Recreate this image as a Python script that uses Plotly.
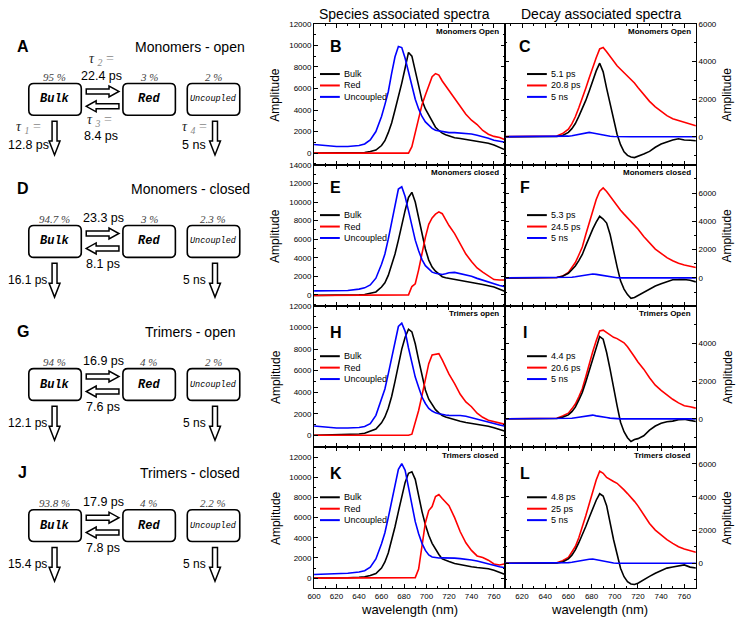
import plotly.graph_objects as go

# wavelength grid (nm) shared by all spectra
wavelength = [600, 610, 620, 630, 640, 645, 650, 655, 660, 663, 666, 669, 672, 675, 678, 681,
              684, 687, 690, 693, 696, 699, 702, 705, 708, 711, 714, 717, 720, 725, 730, 735,
              740, 745, 750, 755, 760, 765, 770]

# ---- Species associated spectra (B, E, H, K) ----
mono_open_bulk = [0, 0, 0, 0, 20, 50, 150, 280, 700, 1150, 1900, 2800, 4000, 5200, 6500, 7900,
                  9350, 9000, 7700, 6300, 4900, 4100, 3500, 2900, 2400, 2100, 1850, 1700, 1600, 1420,
                  1350, 1270, 1200, 1100, 1000, 920, 750, 550, 300]
mono_open_red = [0] * 17 + [600, 1900, 3300, 4500, 5400, 6300, 7100, 7380, 7250, 6700, 6250, 5850,
                            5050, 4300, 3600, 3050, 2650, 2100, 1750, 1550, 1450, 1230]
mono_open_unc = [800, 720, 620, 620, 700, 850, 1230, 2000, 3400, 4500, 5700, 7400, 8950, 9900, 9800,
                 8800, 7600, 6250, 5000, 4100, 3400, 2900, 2550, 2300, 2120, 2050, 2000, 1950, 1900,
                 1900, 1880, 1830, 1770, 1650, 1530, 1380, 1200, 1100, 1000]

mono_closed_bulk = [-50, -50, -40, -20, 0, 50, 150, 320, 850, 1300, 2100, 3200, 4400, 5900, 7600,
                    9100, 10500, 11050, 10000, 8300, 6500, 4950, 3750, 3000, 2550, 2250, 1960, 1850,
                    1780, 1620, 1520, 1400, 1320, 1220, 1120, 1010, 850, 600, 360]
mono_closed_red = [-60] * 16 + [0, 900, 1200, 2700, 4500, 6200, 7600, 8300, 8700, 8950, 8750, 8100,
                                7470, 6600, 5450, 4400, 3600, 2900, 2450, 2000, 1650, 1600, 1600]
mono_closed_unc = [430, 430, 430, 480, 620, 760, 1070, 1800, 3300, 4400, 6000, 7900, 9700, 11400,
                   11650, 10600, 9050, 7300, 5900, 4750, 3800, 3150, 2750, 2450, 2330, 2250, 2200,
                   2280, 2380, 2420, 2300, 2150, 2000, 1780, 1580, 1380, 1180, 1020, 890]

tri_open_bulk = [0, 20, 40, 70, 120, 180, 350, 580, 1150, 1700, 2500, 3600, 5000, 6500, 8000, 9100,
                 9850, 9600, 8500, 7000, 5500, 4200, 3350, 2800, 2380, 2080, 1840, 1700, 1600, 1420,
                 1300, 1180, 1100, 1000, 920, 840, 700, 540, 370]
tri_open_red = [0] * 17 + [100, 1100, 2300, 3700, 5200, 6650, 7450, 7550, 7580, 7000, 6300, 5670,
                           4800, 3800, 3100, 2650, 2050, 1670, 1400, 1260, 1150, 1010]
tri_open_unc = [860, 760, 680, 680, 720, 820, 1070, 1850, 3300, 4300, 5700, 7200, 8850, 10100, 10400,
                9650, 8100, 6700, 5400, 4450, 3550, 2950, 2500, 2250, 2080, 2000, 1920, 1880, 1850,
                1850, 1840, 1760, 1640, 1500, 1370, 1240, 1100, 960, 830]

tri_closed_bulk = [0, 0, 20, 40, 80, 130, 260, 460, 1000, 1600, 2500, 3700, 5100, 6600, 8200, 9500,
                   10400, 10550, 9800, 8100, 6600, 5300, 4250, 3450, 2850, 2350, 1910, 1750, 1640,
                   1450, 1330, 1220, 1130, 1050, 990, 930, 780, 560, 360]
tri_closed_red = [0] * 18 + [50, 900, 3000, 5500, 6700, 7100, 8100, 8300, 7900, 7500, 7190, 6000,
                             4600, 3500, 2750, 2200, 2050, 1780, 1400, 1300, 1420]
tri_closed_unc = [360, 380, 420, 480, 600, 740, 1090, 1900, 3400, 4500, 6000, 7700, 9450, 10800,
                  11350, 10700, 9000, 7400, 5600, 4400, 3450, 2750, 2300, 2100, 2020, 2000, 2010,
                  2010, 2010, 1980, 1930, 1880, 1800, 1700, 1540, 1370, 1220, 1120, 1020]

# ---- Decay associated spectra (C, F, I, L) ----
das_mo_fast = [0] * 6 + [10, 70, 230, 430, 700, 1080, 1470, 1930, 2430, 2980, 3500, 3910, 3450,
                         2570, 1700, 870, 130, -420, -800, -990, -1080, -1110, -1050, -920, -780,
                         -560, -390, -260, -170, -110, -175, -185, -210]
das_mo_slow = [0] * 6 + [40, 170, 400, 680, 1060, 1540, 2020, 2580, 3130, 3690, 4200, 4670, 4740,
                         4520, 4260, 3980, 3770, 3590, 3410, 3220, 3040, 2860, 2620, 2230, 1880,
                         1590, 1360, 1120, 960, 870, 760, 660, 580]
das_mo_ns = [0] * 8 + [30, 50, 90, 140, 180, 205, 230, 200, 160, 120, 90, 45, 25, 10] + [0] * 17

das_mc_fast = [0] * 6 + [25, 120, 330, 580, 840, 1220, 1660, 2280, 2890, 3450, 3950, 4360, 4160,
                         3880, 3070, 1870, 800, -210, -790, -1180, -1440, -1380, -1250, -1000, -780,
                         -580, -420, -270, -130, -125, -110, -170, -280]
das_mc_slow = [0] * 6 + [25, 130, 380, 730, 1090, 1620, 2180, 3070, 3940, 4800, 5550, 6140, 6370,
                         6110, 5770, 5400, 5070, 4790, 4510, 4260, 4020, 3770, 3460, 2930, 2450,
                         2040, 1740, 1430, 1210, 1030, 910, 810, 730]
das_mc_ns = [0] * 8 + [20, 50, 80, 115, 150, 190, 235, 275, 250, 210, 160, 110, 60, 35, 15] + [0] * 16

das_to_fast = [0] * 6 + [20, 90, 210, 380, 620, 990, 1400, 1960, 2560, 3210, 3820, 4370, 4230,
                         3520, 2630, 1610, 700, -180, -680, -1000, -1200, -1100, -1050, -900, -600,
                         -380, -230, -150, -120, -40, -25, -80, -140]
das_to_slow = [0] * 6 + [30, 150, 300, 530, 790, 1170, 1600, 2230, 2930, 3560, 4150, 4670, 4710,
                         4590, 4440, 4330, 4260, 4170, 4040, 3830, 3590, 3300, 3020, 2640, 2180,
                         1790, 1510, 1260, 1040, 850, 700, 640, 570]
das_to_ns = [0] * 8 + [15, 35, 60, 95, 130, 160, 195, 200, 160, 120, 95, 70, 40, 20, 5] + [0] * 16

das_tc_fast = [0] * 6 + [15, 80, 260, 490, 810, 1240, 1690, 2220, 2760, 3280, 3800, 4190, 4050,
                         3470, 2340, 1420, 560, -300, -810, -1110, -1250, -1280, -1200, -970, -790,
                         -600, -430, -290, -220, -160, -100, -230, -280]
das_tc_slow = [0] * 6 + [30, 150, 360, 680, 1010, 1540, 2140, 2860, 3590, 4370, 5020, 5550, 5420,
                         5170, 5030, 4930, 4820, 4640, 4420, 4200, 3990, 3730, 3460, 2960, 2400,
                         2000, 1690, 1420, 1200, 1000, 860, 760, 660]
das_tc_ns = [0] * 8 + [40, 60, 100, 140, 170, 205, 240, 255, 210, 160, 120, 85, 45, 20, 5] + [0] * 16

sas_names = ["Bulk", "Red", "Uncoupled"]
das_names = [["5.1 ps", "20.8 ps", "5 ns"], ["5.3 ps", "24.5 ps", "5 ns"],
             ["4.4 ps", "20.6 ps", "5 ns"], ["4.8 ps", "25 ps", "5 ns"]]
sas_tags = ["Monomers Open", "Monomers closed", "Trimers open", "Trimers closed"]
das_tags = ["Monomers Open", "Monomers closed", "Trimers Open", "Trimers closed"]
sas_letters = ["B", "E", "H", "K"]
das_letters = ["C", "F", "I", "L"]

# ---- Kinetic schemes (A, D, G, J) ----
scheme_letters = ["A", "D", "G", "J"]
scheme_titles = ["Monomers - open", "Monomers - closed", "Trimers - open", "Trimers - closed"]
bulk_pct = ["95 %", "94.7 %", "94 %", "93.8 %"]
red_pct = ["3 %", "3 %", "4 %", "4 %"]
unc_pct = ["2 %", "2.3 %", "2 %", "2.2 %"]
tau_forward = ["22.4 ps", "23.3 ps", "16.9 ps", "17.9 ps"]
tau_back = ["8.4 ps", "8.1 ps", "7.6 ps", "7.8 ps"]
tau_bulk = ["12.8 ps", "16.1 ps", "12.1 ps", "15.4 ps"]
tau_unc = ["5 ns", "5 ns", "5 ns", "5 ns"]

sas_data = [(mono_open_bulk, mono_open_red, mono_open_unc),
            (mono_closed_bulk, mono_closed_red, mono_closed_unc),
            (tri_open_bulk, tri_open_red, tri_open_unc),
            (tri_closed_bulk, tri_closed_red, tri_closed_unc)]
das_data = [(das_mo_fast, das_mo_slow, das_mo_ns),
            (das_mc_fast, das_mc_slow, das_mc_ns),
            (das_to_fast, das_to_slow, das_to_ns),
            (das_tc_fast, das_tc_slow, das_tc_ns)]

colors = ["#000000", "#ff0000", "#0000ff"]

W, H = 736, 617
ARIAL = "Liberation Sans, Arial, sans-serif"
SERIF = "Liberation Serif, Times New Roman, serif"
MONO = "Liberation Mono, Courier New, monospace"

rows_top = [20, 162, 304, 446]
row_h = 142
mid_x = (310, 503)
das_x = (503, 695.5)
sas_yrange = [[-1100, 12000], [-1200, 14000], [-1100, 12000], [-1000, 13000]]
das_yrange = [[-1500, 6000], [-1990, 7990], [-1500, 5990], [-1500, 7000]]

fig = go.Figure()
layout = dict(width=W, height=H, margin=dict(l=0, r=0, t=0, b=0),
              paper_bgcolor="white", plot_bgcolor="rgba(0,0,0,0)", showlegend=False,
              font=dict(family=ARIAL, size=8, color="black"))

axis_common = dict(showline=True, linecolor="black", linewidth=1, mirror="ticks",
                   ticks="inside", ticklen=4, tickcolor="black", showgrid=False,
                   zeroline=False, tickformat="d",
                   tickfont=dict(size=8, family=ARIAL, color="black"))

annotations = []
shapes = []


def txt(x, y, s, size=12, family=ARIAL, color="black", xanchor="center", angle=0):
    annotations.append(dict(x=x, y=y, xref="x9", yref="y9", text=s, showarrow=False,
                            font=dict(size=size, family=family, color=color),
                            xanchor=xanchor, yanchor="middle", textangle=angle))


for r in range(4):
    top = rows_top[r]
    bot = top + row_h
    ydom = [1 - bot / H, 1 - top / H]
    i, j = r + 1, r + 5

    for k in range(3):
        fig.add_trace(go.Scatter(x=wavelength, y=sas_data[r][k], mode="lines",
                                 line=dict(color=colors[k], width=1.6),
                                 xaxis=f"x{i}", yaxis=f"y{i}", name=sas_names[k]))
    for k in [1, 0, 2]:
        fig.add_trace(go.Scatter(x=wavelength, y=das_data[r][k], mode="lines",
                                 line=dict(color=colors[k], width=1.6),
                                 xaxis=f"x{j}", yaxis=f"y{j}", name=das_names[r][k]))

    layout[f"xaxis{i}"] = dict(axis_common, domain=[mid_x[0] / W, mid_x[1] / W], range=[600, 770],
                               anchor=f"y{i}", tickmode="linear", tick0=600, dtick=20,
                               showticklabels=(r == 3),
                               minor=dict(ticks="inside", ticklen=2, tick0=600, dtick=10,
                                          tickcolor="black"))
    layout[f"yaxis{i}"] = dict(axis_common, domain=ydom, range=sas_yrange[r], anchor=f"x{i}",
                               tickmode="linear", tick0=0, dtick=2000,
                               minor=dict(ticks="inside", ticklen=2, tick0=0, dtick=1000,
                                          tickcolor="black"))
    layout[f"xaxis{j}"] = dict(axis_common, domain=[das_x[0] / W, das_x[1] / W], range=[605.5, 770],
                               anchor=f"y{j}", tickmode="linear", tick0=600, dtick=20,
                               showticklabels=(r == 3),
                               minor=dict(ticks="inside", ticklen=2, tick0=600, dtick=10,
                                          tickcolor="black"))
    layout[f"yaxis{j}"] = dict(axis_common, domain=ydom, range=das_yrange[r], anchor=f"x{j}",
                               side="right", tickmode="linear", tick0=0, dtick=2000,
                               minor=dict(ticks="inside", ticklen=2, tick0=0, dtick=1000,
                                          tickcolor="black"))

    # panel letters and in-plot tags
    txt(332, top + 23 + (4 if r >= 2 else 0), f"<b>{sas_letters[r]}</b>", size=16)
    txt(523, top + 23 + (4 if r >= 2 else 0), f"<b>{das_letters[r]}</b>", size=16)
    txt(499, top + 8, f"<b>{sas_tags[r]}</b>", size=8, xanchor="right")
    txt(693, top + 8, f"<b>{das_tags[r]}</b>", size=8, xanchor="right")

    # legends (short line + label)
    for k in range(3):
        yy = top + 50.5 + 11.5 * k
        shapes.append(dict(type="line", xref="x9", yref="y9", x0=316, x1=336, y0=yy, y1=yy,
                           line=dict(color=colors[k], width=2)))
        txt(338, yy, sas_names[k], size=9, xanchor="left")
        shapes.append(dict(type="line", xref="x9", yref="y9", x0=525, x1=545, y0=yy, y1=yy,
                           line=dict(color=colors[k], width=2)))
        txt(547, yy, das_names[r][k], size=9, xanchor="left")

    # axis titles
    txt(271, top + row_h / 2, "Amplitude", size=12, angle=-90)
    txt(727, top + row_h / 2, "Amplitude", size=12, angle=-90)

# column headers and x titles
txt(401, 10, "Species associated spectra", size=14)
txt(600, 10, "Decay associated spectra", size=14)
txt(406, 609, "wavelength (nm)", size=13)
txt(598, 609, "wavelength (nm)", size=13)


def rounded_box(x0, y0, x1, y1, rad=5):
    return (f"M {x0 + rad},{y0} L {x1 - rad},{y0} Q {x1},{y0} {x1},{y0 + rad} "
            f"L {x1},{y1 - rad} Q {x1},{y1} {x1 - rad},{y1} L {x0 + rad},{y1} "
            f"Q {x0},{y1} {x0},{y1 - rad} L {x0},{y0 + rad} Q {x0},{y0} {x0 + rad},{y0} Z")


def h_arrow(xs, xe, yc, sh=2.5, hh=5.5, hl=10):
    d = 1 if xe > xs else -1
    xb = xe - d * hl
    return (f"M {xs},{yc - sh} L {xb},{yc - sh} L {xb},{yc - hh} L {xe},{yc} "
            f"L {xb},{yc + hh} L {xb},{yc + sh} L {xs},{yc + sh} Z")


def v_arrow(xc, ys, ye, sw=2.5, hw=5.5, hl=14):
    yb = ye - hl
    return (f"M {xc - sw},{ys} L {xc + sw},{ys} L {xc + sw},{yb} L {xc + hw},{yb} "
            f"L {xc},{ye} L {xc - hw},{yb} L {xc - sw},{yb} Z")


def add_path(p, width=1.5):
    shapes.append(dict(type="path", path=p, xref="x9", yref="y9",
                       line=dict(color="black", width=width), fillcolor="white"))


offsets = [0, 143, 287, 429]
for r, o in enumerate(offsets):
    txt(16, 43 + o, f"<b>{scheme_letters[r]}</b>", size=16)
    txt(185, 43 + o, scheme_titles[r], size=14)
    for x, s in zip([48, 143, 208], [bulk_pct[r], red_pct[r], unc_pct[r]]):
        txt(x, 73 + o, f"<i>{s}</i>", size=11, family=SERIF, color="#444")
    for x0, x1 in [(22, 75), (117, 170), (182, 235)]:
        add_path(rounded_box(x0, 80 + o, x1, 112 + o), width=1.6)
    txt(48, 96 + o, "<b><i>Bulk</i></b>", size=12, family=MONO)
    txt(143, 96 + o, "<b><i>Red</i></b>", size=12, family=MONO)
    txt(208, 96 + o, "<i>Uncoupled</i>", size=8.5, family=MONO)
    add_path(h_arrow(80, 113, 88 + o))
    add_path(h_arrow(113, 80, 103 + o))
    add_path(v_arrow(48, 118 + o, 152 + o))
    add_path(v_arrow(210, 118 + o, 152 + o))

    if r == 0:
        def tau(n):
            return (f"<span style='color:#222'><i>τ</i></span> "
                    f"<span style='color:#888'><sub><i>{n}</i></sub> =</span>")
        txt(95, 56, tau(2), size=14, family=SERIF)
        txt(95, 72, tau_forward[r], size=12.5)
        txt(93, 117, tau(3), size=14, family=SERIF)
        txt(95, 133, tau_back[r], size=12.5)
        txt(22, 124, tau(1), size=14, family=SERIF)
        txt(22, 142, tau_bulk[r], size=12.5)
        txt(189, 124, tau(4), size=14, family=SERIF)
        txt(189, 142, tau_unc[r], size=12.5)
    else:
        txt(97, 72 + o, tau_forward[r], size=12.5)
        txt(97, 119 + o, tau_back[r], size=12.5)
        txt(21, 135 + o, tau_bulk[r], size=12)
        txt(189, 135 + o, tau_unc[r], size=12)

# invisible pixel-unit overlay used for text, legends and the scheme drawings
fig.add_trace(go.Scatter(x=[None], y=[None], xaxis="x9", yaxis="y9", showlegend=False,
                         hoverinfo="skip"))
layout["xaxis9"] = dict(domain=[0, 1], range=[0, W], visible=False, anchor="y9", fixedrange=True)
layout["yaxis9"] = dict(domain=[0, 1], range=[H, 0], visible=False, anchor="x9", fixedrange=True)
layout["annotations"] = annotations
layout["shapes"] = shapes

fig.update_layout(**layout)
# drop the browser's default page margin so the figure sits at the window corner
fig.write_html("out.html", config={"displayModeBar": False},
               post_script="document.body.style.margin='0';")
